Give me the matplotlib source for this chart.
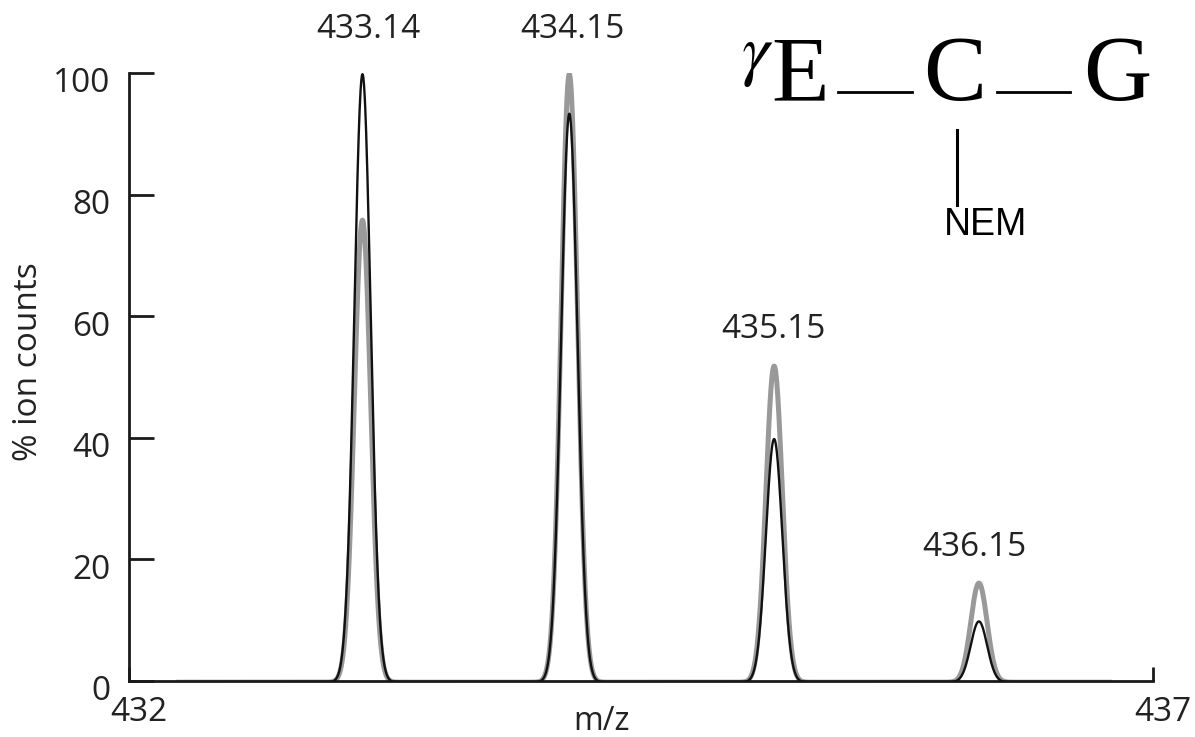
import numpy as np
import matplotlib
matplotlib.use("Agg")
import matplotlib.pyplot as plt
from matplotlib.transforms import ScaledTranslation

plt.rcParams["mathtext.fontset"] = "stix"

# ---- data ----
peak_mz = [433.14, 434.15, 435.15, 436.15]
peak_labels = ["433.14", "434.15", "435.15", "436.15"]
black_heights = [100, 93.5, 40, 10]
gray_heights = [76, 100, 52, 16.3]
peak_sigma = 0.040
mz_start, mz_end = 432.23, 436.80
label_x = [433.17, 434.165, 435.145, 436.13]
label_y = [107.2, 107.2, 57.8, 21.9]
xticks = [432, 437]
yticks = [0, 20, 40, 60, 80, 100]

W, H = 1195, 737
fig = plt.figure(figsize=(W / 100, H / 100), dpi=100)
ax = fig.add_axes([129 / W, 56 / H, (1153 - 129) / W, (681 - 73) / H])

mz = np.linspace(mz_start, mz_end, 3000)


def profile(heights):
    y = np.zeros_like(mz)
    for c, h in zip(peak_mz, heights):
        y += h * np.exp(-0.5 * ((mz - c) / peak_sigma) ** 2)
    return y


ax.plot(mz, profile(gray_heights) - 0.2, color="#999999", lw=3.6, solid_capstyle="butt", zorder=2)
ax.plot(mz, profile(black_heights) - 0.2, color="#111111", lw=1.7, zorder=3)

ax.set_xlim(432, 437)
ax.set_ylim(0, 100)
for s in ["top", "right"]:
    ax.spines[s].set_visible(False)
for s in ["left", "bottom"]:
    ax.spines[s].set_linewidth(2.0)
    ax.spines[s].set_color("#1a1a1a")

num_font = "Open Sans"
txt_col = "#222222"
ax.set_yticks(yticks)
ax.set_yticklabels([str(v) for v in yticks], fontsize=24, family=num_font, color=txt_col)
ax.tick_params(axis="y", direction="in", length=18, width=2.0, pad=13.5, color="#1a1a1a")
for lab in ax.get_yticklabels():
    lab.set_transform(lab.get_transform() + ScaledTranslation(0, -0.07, fig.dpi_scale_trans))
ax.set_xticks(xticks)
ax.set_xticklabels([str(v) for v in xticks], fontsize=24, family=num_font, color=txt_col)
ax.tick_params(axis="x", direction="in", length=10, width=2.0, pad=11, color="#1a1a1a")
for lab in ax.get_xticklabels():
    lab.set_transform(lab.get_transform() + ScaledTranslation(0.10, 0, fig.dpi_scale_trans))

ax.set_xlabel("m/z", fontsize=23, family=num_font, color=txt_col)
ax.xaxis.set_label_coords(0.461, -0.066)
ax.xaxis.label.set_va("center")
ax.set_ylabel("% ion counts", fontsize=24, family=num_font, color=txt_col)
ax.yaxis.set_label_coords(-0.0986, 0.5255)
ax.yaxis.label.set_va("center")

for x, lbl, y in zip(label_x, peak_labels, label_y):
    ax.text(x, y, lbl, ha="center", va="center", fontsize=24, family=num_font,
            color=txt_col, clip_on=False)


def fx(px):
    return px / W


def fy(py):
    return 1 - py / H


serif = "Liberation Serif"
fig.text(fx(757), fy(73), r"$\gamma$", fontsize=50, ha="center", va="baseline")
fig.text(fx(800), fy(100), "E", fontsize=68, family=serif, ha="center", va="baseline")
fig.text(fx(955), fy(100), "C", fontsize=68, family=serif, ha="center", va="baseline")
fig.text(fx(1117), fy(100), "G", fontsize=68, family=serif, ha="center", va="baseline")
for x0, x1 in [(838, 912), (997, 1070)]:
    fig.add_artist(plt.Line2D([fx(x0), fx(x1)], [fy(92), fy(92)], color="black", lw=2.0,
                              transform=fig.transFigure))
fig.add_artist(plt.Line2D([fx(957), fx(957)], [fy(130), fy(205)], color="black", lw=2.2,
                          transform=fig.transFigure))
fig.text(fx(986), fy(235), "NEM", fontsize=27, family="Liberation Sans", ha="center",
         va="baseline")

fig.savefig("out.png", dpi=100)
